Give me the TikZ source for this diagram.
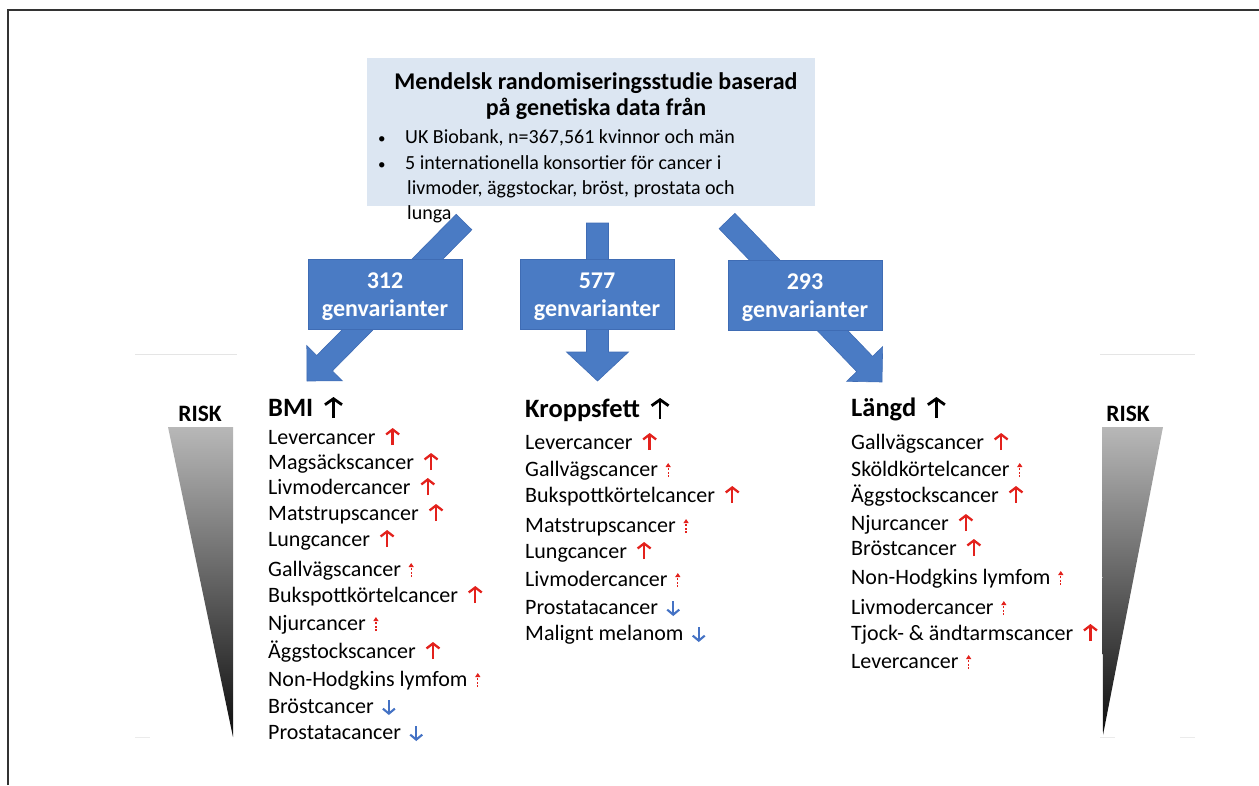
\documentclass[tikz,border=0pt]{standalone}
\usepackage{fontspec}
\setmainfont{Carlito}
\usetikzlibrary{arrows.meta,calc}
\definecolor{boxblue}{HTML}{DCE6F2}
\definecolor{arrblue}{HTML}{4A7BC4}
\definecolor{arrline}{HTML}{3F6CB4}
\definecolor{riskred}{HTML}{E3211C}
\definecolor{downblue}{HTML}{4472C4}
\tikzset{
  itm/.style={anchor=base west, inner sep=0pt, font=\fontsize{22}{25}\selectfont},
  hdg/.style={anchor=base west, inner sep=0pt, font=\bfseries\fontsize{26.5}{28}\selectfont},
  lbl/.style={fill=arrblue, draw=arrline, line width=0.8pt, text=white, align=center,
    minimum width=154pt, minimum height=70pt, inner sep=0pt, text height=50pt, text depth=6pt,
    font=\bfseries\fontsize{24}{28}\selectfont},
  bigup/.style={riskred, line width=2.3pt, -{Straight Barb[length=5pt,width=13pt]}},
  smallup/.style={riskred, line width=1.2pt, dash pattern=on 2pt off 1.5pt, -{Triangle[length=4pt,width=5pt]}},
  bigdown/.style={downblue, line width=2.1pt, -{Straight Barb[length=5pt,width=12pt]}},
  hdgup/.style={black, line width=2.8pt, -{Straight Barb[length=6pt,width=17pt]}},
  blockarr/.style={fill=arrblue, draw=arrline, line width=0.6pt},
  risk/.style={font=\bfseries\fontsize{23.5}{26}\selectfont, inner sep=0pt}
}
\newcommand\blockarrow[5]{%
  \coordinate (tmph) at ($(#2)!#5!(#1)$);
  \filldraw[blockarr] ($(#1)!#3!90:(#2)$) -- ($(tmph)!#3!90:(#2)$) -- ($(tmph)!#4!90:(#2)$) -- (#2)
     -- ($(tmph)!#4!-90:(#2)$) -- ($(tmph)!#3!-90:(#2)$) -- ($(#1)!#3!-90:(#2)$) -- cycle;}
\newcommand\itm[4]{\node[itm] (#1) at (#2,#3) {#4};}
\newcommand\ub[1]{\draw[bigup] ($(#1.base east)+(17,1)$) -- ($(#1.base east)+(17,-16)$);}
\newcommand\us[1]{\draw[smallup] ($(#1.base east)+(10,1)$) -- ($(#1.base east)+(10,-13)$);}
\newcommand\db[1]{\draw[bigdown] ($(#1.base east)+(15,-13)$) -- ($(#1.base east)+(15,2)$);}
\newcommand\hb[1]{\draw[hdgup] ($(#1.base east)+(20,2)$) -- ($(#1.base east)+(20,-19)$);}
\begin{document}
\begin{tikzpicture}[x=1pt,y=-1pt]
\useasboundingbox (0,0) rectangle (1259,785);
% frame
\draw[line width=2pt, black!80] (8,785) -- (8,10) -- (1259,10);
% faint lines
\draw[black!10, line width=1pt] (135,354) -- (237,354);
\draw[black!10, line width=1pt] (1100,354) -- (1195,354);
\draw[black!8, line width=1pt] (135,737) -- (150,737);
\draw[black!8, line width=1pt] (1100,737) -- (1115,737) (1180,737) -- (1195,737);

% top box
\node[fill=boxblue, minimum width=448pt, minimum height=148pt, anchor=north west, inner sep=0pt] (top) at (367,58) {};

% block arrows
\coordinate (s1) at (464,222); \coordinate (t1) at (307,381);
\coordinate (s2) at (597.5,223); \coordinate (t2) at (597.5,381);
\coordinate (s3) at (727,221); \coordinate (t3) at (882,382);
\blockarrow{s1}{t1}{11pt}{25pt}{25pt}
\blockarrow{s2}{t2}{11pt}{31pt}{29pt}
\blockarrow{s3}{t3}{11pt}{25pt}{25pt}

% labels
\node[lbl] (b1) at (385,294) {312\\genvarianter};
\node[lbl] (b2) at (597,294.5) {577\\genvarianter};
\node[lbl] (b3) at (805,295) {293\\genvarianter};

% top box text
\node[font=\bfseries\fontsize{24}{26}\selectfont, align=center, inner sep=0pt] (title) at (596,96)
  {Mendelsk randomiseringsstudie baserad\\på genetiska data från};
\begin{scope}[every node/.style={anchor=base west, inner sep=0pt, font=\fontsize{20}{25}\selectfont}]
\node (bu1) at (378,143) {\fontsize{15}{15}\selectfont •};
\node (bt1) at (405,143) {UK Biobank, n=367,561 kvinnor och män};
\node (bu2) at (378,169) {\fontsize{15}{15}\selectfont •};
\node (bt2) at (405,169) {5 internationella konsortier för cancer i};
\node (bt3) at (407,194) {livmoder, äggstockar, bröst, prostata och};
\node (bt4) at (407,219) {lunga};
\end{scope}

% RISK triangles
\node[risk] (risk1) at (200,414) {RISK};
\shade[top color=black!28, bottom color=black!95] (168,427) -- (233,427) -- (233,737) -- cycle;
\node[risk] (risk2) at (1128,414) {RISK};
\shade[top color=black!28, bottom color=black!95] (1102,427) -- (1163,427) -- (1103,735) -- cycle;

% BMI column
\node[hdg] (h1) at (268,416) {BMI}; \hb{h1}
\itm{a1}{268}{444}{Levercancer}\ub{a1}
\itm{a2}{268}{469}{Magsäckscancer}\ub{a2}
\itm{a3}{268}{494}{Livmodercancer}\ub{a3}
\itm{a4}{268}{520}{Matstrupscancer}\ub{a4}
\itm{a5}{268}{546}{Lungcancer}\ub{a5}
\itm{a6}{268}{576}{Gallvägscancer}\us{a6}
\itm{a7}{268}{602}{Bukspottkörtelcancer}\ub{a7}
\itm{a8}{268}{630}{Njurcancer}\us{a8}
\itm{a9}{268}{658}{Äggstockscancer}\ub{a9}
\itm{a10}{268}{686}{Non-Hodgkins lymfom}\us{a10}
\itm{a11}{268}{713}{Bröstcancer}\db{a11}
\itm{a12}{268}{739}{Prostatacancer}\db{a12}

% Kroppsfett column
\node[hdg] (h2) at (525,417) {Kroppsfett}; \hb{h2}
\itm{k1}{525}{449}{Levercancer}\ub{k1}
\itm{k2}{525}{476}{Gallvägscancer}\us{k2}
\itm{k3}{525}{502}{Bukspottkörtelcancer}\ub{k3}
\itm{k4}{525}{532}{Matstrupscancer}\us{k4}
\itm{k5}{525}{558}{Lungcancer}\ub{k5}
\itm{k6}{525}{586}{Livmodercancer}\us{k6}
\itm{k7}{525}{614}{Prostatacancer}\db{k7}
\itm{k8}{525}{640}{Malignt melanom}\db{k8}

% Längd column
\node[hdg] (h3) at (851,416) {Längd}; \hb{h3}
\itm{l1}{851}{449}{Gallvägscancer}\ub{l1}
\itm{l2}{851}{476}{Sköldkörtelcancer}\us{l2}
\itm{l3}{851}{502}{Äggstockscancer}\ub{l3}
\itm{l4}{851}{530}{Njurcancer}\ub{l4}
\itm{l5}{851}{555}{Bröstcancer}\ub{l5}
\itm{l6}{851}{584}{Non-Hodgkins lymfom}\us{l6}
\itm{l7}{851}{614}{Livmodercancer}\us{l7}
\itm{l8}{851}{640}{Tjock- \& ändtarmscancer}\ub{l8}
\itm{l9}{851}{668}{Levercancer}\us{l9}
\end{tikzpicture}
\end{document}
